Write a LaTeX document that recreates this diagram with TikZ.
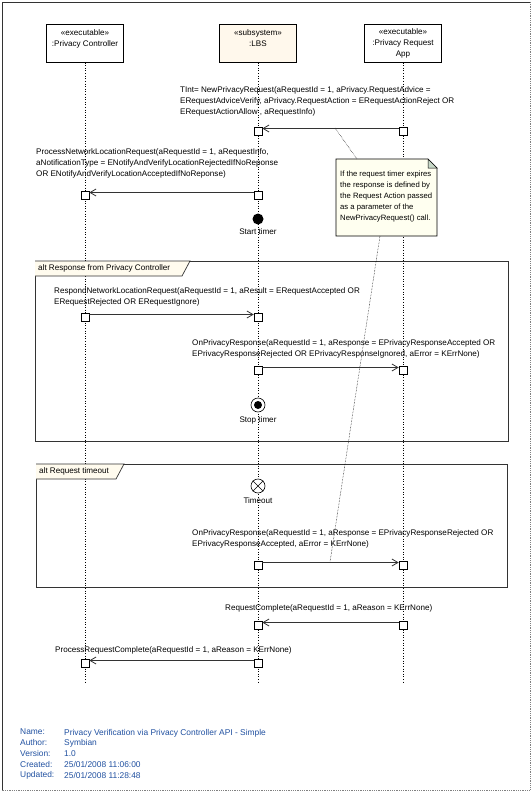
\documentclass[tikz,border=0pt]{standalone}
\usepackage{fontspec}
\setmainfont{Liberation Sans}
\usetikzlibrary{arrows.meta,positioning}
\definecolor{lbsfill}{HTML}{FFF8EC}
\definecolor{notefill}{HTML}{FFFFF0}
\definecolor{tabfill}{HTML}{FFFBEE}
\definecolor{foldfill}{HTML}{C8D8C8}
\definecolor{infoblue}{HTML}{2050A0}

\begin{document}
\begin{tikzpicture}[x=1pt,y=-1pt,
  font=\fontsize{8.1}{11}\selectfont,
  head/.style={draw,line width=0.7pt,minimum width=77pt,minimum height=38pt,
    inner sep=1pt,align=center,anchor=north},
  life/.style={dotted,line width=0.6pt},
  act/.style={draw,fill=white,line width=0.6pt,minimum size=8pt,inner sep=0pt,anchor=north},
  msg/.style={draw=black!80,line width=0.8pt,-{Straight Barb[length=6pt,width=7pt]}},
  lbl/.style={anchor=north west,align=left,inner sep=0pt},
  notelink/.style={densely dotted,line width=0.5pt},
  frag/.style={draw=black!80,line width=0.7pt},
  timerlbl/.style={inner sep=1pt}]
  \useasboundingbox (0,0) rectangle (531,800);
  \draw[black!80,line width=0.8pt] (530,2) -- (2,2) -- (2,790);
  \draw[black!50,densely dotted,line width=0.8pt] (530,2) -- (530,790) -- (2,790);

  \node[head] (pc) at (85,24) {«executable»\\:Privacy Controller\\\phantom{A}};
  \node[head,fill=lbsfill] (lbs) at (258,24) {«subsystem»\\:LBS\\\phantom{A}};
  \node[head] (pra) at (403,24) {«executable»\\:Privacy Request\\App};

  \foreach \n/\x in {pc/85,lbs/258,pra/403}
    \draw[life] (\n.south) -- (\x,683);

  % combined fragments
  \draw[frag] (35,261) rectangle (508,441);
  \draw[frag,fill=tabfill] (35,261) -- (190,261) -- (182,276) -- (35,276);
  \node[lbl,anchor=west] (alt1) at (38,268.5) {alt Response from Privacy Controller};
  \draw[frag] (36,464) rectangle (507,587);
  \draw[frag,fill=tabfill] (36,464) -- (124,464) -- (116,479) -- (36,479);
  \node[lbl,anchor=west] (alt2) at (39,471.5) {alt Request timeout};

  % note
  \draw[line width=0.6pt,fill=notefill] (336,159) -- (428,159) -- (437,168) -- (437,236) -- (336,236) -- cycle;
  \draw[line width=0.5pt,fill=foldfill] (428,159) -- (428,168) -- (437,168) -- cycle;
  \node[lbl,font=\fontsize{7.7}{11}\selectfont] (note) at (340,171) {If the request timer expires\\the response is defined by\\the Request Action passed\\as a parameter of the\\NewPrivacyRequest() call.};
  \coordinate (m1pt) at (335,128);
  \coordinate (notetop) at (357,159);
  \coordinate (notebot) at (380,236);
  \coordinate (m6pt) at (330,562);
  \draw[notelink] (m1pt) -- (notetop);
  \draw[notelink] (notebot) -- (m6pt);

  % messages
  \node[lbl] (l1) at (180,86) {TInt= NewPrivacyRequest(aRequestId = 1, aPrivacy.RequestAdvice =\\ERequestAdviceVerify, aPrivacy.RequestAction = ERequestActionReject OR\\ERequestActionAllow , aRequestInfo)};
  \node[act] (a1) at (258,127) {};
  \node[act] (b1) at (403,127) {};
  \draw[msg] ([yshift=-1.5pt]b1.north west) -- ([yshift=-1.5pt]a1.north east);

  \node[lbl] (l2) at (36,148) {ProcessNetworkLocationRequest(aRequestId = 1, aRequestInfo,\\aNotificationType = ENotifyAndVerifyLocationRejectedIfNoReponse\\OR ENotifyAndVerifyLocationAcceptedIfNoReponse)};
  \node[act] (a2) at (258,191) {};
  \node[act] (c2) at (85,191) {};
  \draw[msg] ([yshift=-1.5pt]a2.north west) -- ([yshift=-1.5pt]c2.north east);

  \node[circle,fill,minimum size=11pt,inner sep=0pt] (start) at (258,219) {};
  \node[timerlbl,below=3pt of start] (startlbl) {Start timer};

  \node[lbl] (l3) at (54,287) {RespondNetworkLocationRequest(aRequestId = 1, aResult = ERequestAccepted OR\\ERequestRejected OR ERequestIgnore)};
  \node[act] (c3) at (85,313) {};
  \node[act] (a3) at (258,313) {};
  \draw[msg] ([yshift=-1.5pt]c3.north east) -- ([yshift=-1.5pt]a3.north west);

  \node[lbl] (l4) at (192,339) {OnPrivacyResponse(aRequestId = 1, aResponse = EPrivacyResponseAccepted OR\\EPrivacyResponseRejected OR EPrivacyResponseIgnored, aError = KErrNone)};
  \node[act] (a4) at (258,366) {};
  \node[act] (b4) at (403,366) {};
  \draw[msg] ([yshift=-1.5pt]a4.north east) -- ([yshift=-1.5pt]b4.north west);

  \node[circle,draw,fill=white,line width=0.6pt,minimum size=14pt,inner sep=0pt] (stop) at (258,405) {};
  \fill (stop.center) circle (4);
  \node[timerlbl,below=3pt of stop] (stoplbl) {Stop timer};

  \node[circle,draw,fill=white,line width=0.6pt,minimum size=14pt,inner sep=0pt] (tmo) at (258,486) {};
  \draw[line width=0.6pt] (tmo.north west) -- (tmo.south east) (tmo.north east) -- (tmo.south west);
  \node[timerlbl,below=3pt of tmo] (tmolbl) {Timeout};

  \node[lbl] (l6) at (192,529) {OnPrivacyResponse(aRequestId = 1, aResponse = EPrivacyResponseRejected OR\\EPrivacyResponseAccepted, aError = KErrNone)};
  \node[act] (a6) at (258,561) {};
  \node[act] (b6) at (403,561) {};
  \draw[msg] ([yshift=-1.5pt]a6.north east) -- ([yshift=-1.5pt]b6.north west);

  \node[lbl] (l7) at (225,604) {RequestComplete(aRequestId = 1, aReason = KErrNone)};
  \node[act] (b7) at (403,621) {};
  \node[act] (a7) at (258,621) {};
  \draw[msg] ([yshift=-1.5pt]b7.north west) -- ([yshift=-1.5pt]a7.north east);

  \node[lbl] (l8) at (55,646) {ProcessRequestComplete(aRequestId = 1, aReason = KErrNone)};
  \node[act] (a8) at (258,659) {};
  \node[act] (c8) at (85,659) {};
  \draw[msg] ([yshift=-1.5pt]a8.north west) -- ([yshift=-1.5pt]c8.north east);

  % diagram properties
  \node[lbl,text=infoblue,font=\fontsize{8.4}{10.7}\selectfont] (info) at (20,729) {Name:\\Author:\\Version:\\Created:\\Updated:};
  \node[lbl,text=infoblue,font=\fontsize{8.4}{10.7}\selectfont] (infoval) at (64,729) {Privacy Verification via Privacy Controller API - Simple\\Symbian\\1.0\\25/01/2008 11:06:00\\25/01/2008 11:28:48};
\end{tikzpicture}
\end{document}
